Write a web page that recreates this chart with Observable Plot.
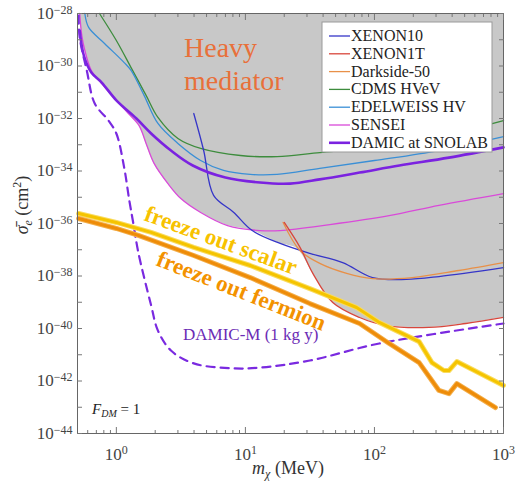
<!DOCTYPE html>
<html><head><meta charset="utf-8">
<script src="https://cdn.jsdelivr.net/npm/d3@7"></script>
<script src="https://cdn.jsdelivr.net/npm/@observablehq/plot@0.6"></script>
<style>
body{margin:0;background:#fff;}
#wrap{position:relative;width:516px;height:482px;}
#wrap svg.ov{position:absolute;left:0;top:0;pointer-events:none;}
</style></head><body><div id="wrap"></div>
<script>
// ---- data: mass (MeV) and log10 of cross section (cm^2) ----
const senseiM = [0.52,0.54,0.57,0.64,0.77,1.0,1.24,1.50,1.70,1.96,2.51,3.16,4.5,7.27,13.0,18.6,45.1,130,316,1000];
const senseiE = [-28.0,-28.84,-29.41,-30.17,-30.67,-31.31,-31.81,-32.27,-32.95,-33.71,-34.48,-35.05,-35.58,-36.08,-36.27,-36.27,-36.04,-35.70,-35.31,-34.86];
const damicM = [0.52,0.56,0.64,0.77,1.0,1.43,1.86,2.65,3.91,7.0,13.0,22.2,37.7,76.7,156,378,1000];
const damicE = [-28.65,-29.60,-30.25,-30.63,-31.31,-32.0,-32.57,-33.22,-33.79,-34.25,-34.44,-34.48,-34.32,-34.06,-33.79,-33.49,-33.10];
const cdmsM = [0.74,1.0,1.30,1.70,2.10,3.0,4.5,9.15,17.6,37.7,100,316,1000];
const cdmsE = [-28.0,-29.03,-30.06,-31.12,-31.96,-32.76,-33.14,-33.41,-33.45,-33.30,-33.10,-32.69,-32.08];
const edelM = [0.57,0.61,0.81,1.15,1.30,1.64,2.10,3.0,4.5,6.77,10.9,17.6,37.7,100,316,1000];
const edelE = [-28.0,-28.53,-29.14,-29.87,-30.17,-31.12,-32.19,-32.95,-33.60,-33.98,-34.13,-34.13,-33.90,-33.60,-33.22,-32.69];
const xe10M = [3.98,4.75,5.67,8.09,11.3,18.6,31.6,56.7,96.6,176,316,1000];
const xe10E = [-31.81,-33.22,-34.93,-35.57,-36.27,-36.76,-37.14,-37.49,-38.06,-38.13,-38.02,-37.68];
const xe1tM = [20.0,26.5,33.3,47.5,76.7,124,265,510,1000];
const xe1tE = [-35.96,-36.91,-37.90,-39.01,-39.58,-39.89,-39.96,-39.81,-39.58];
const ds50M = [19.6,26.5,37.7,60.9,96.6,196,451,1000];
const ds50E = [-35.96,-37.03,-37.52,-37.90,-38.10,-38.06,-37.79,-37.49];
const damicMM = [0.51,0.52,0.59,0.68,0.87,1.0,1.15,1.26,1.35,1.48,1.86,2.10,2.65,3.98,8.09,13.0,31.6,109,1000];
const damicME = [-28.08,-28.91,-30.17,-31.43,-32.08,-32.57,-33.87,-35.12,-35.96,-37.10,-39.12,-40.08,-40.84,-41.33,-41.52,-41.49,-41.22,-40.57,-39.81];
const scalarM = [0.51,1.0,1.86,3.98,10.9,31.6,72.7,109,222,279,345,378,435,1000];
const scalarE = [-35.62,-35.96,-36.34,-36.91,-37.60,-38.48,-39.20,-39.77,-40.50,-41.30,-41.60,-41.60,-41.26,-42.17];
const fermionM = [0.51,1.0,1.48,3.98,10.9,31.6,76.7,130,222,316,378,435,867];
const fermionE = [-35.81,-36.19,-36.45,-37.22,-38.06,-39.05,-39.81,-40.57,-41.30,-42.36,-42.48,-42.10,-43.01];
const excludedM = [0.52,0.54,0.57,0.64,0.77,1.0,1.24,1.50,1.70,1.96,2.51,3.16,4.5,7.27,11.3,18.6,25.1,33.3,47.5,76.7,124,265,510,1000];
const excludedE = [-28.0,-28.84,-29.41,-30.17,-30.67,-31.31,-31.81,-32.27,-32.95,-33.71,-34.48,-35.05,-35.58,-36.08,-36.27,-36.76,-36.95,-37.90,-39.01,-39.58,-39.89,-39.96,-39.81,-39.58];

const xMajor = [1, 10, 100, 1000];
const xMinor = [0.6,0.7,0.8,0.9,2,3,4,5,6,7,8,9,20,30,40,50,60,70,80,90,200,300,400,500,600,700,800,900];
const yLabelled = [-28,-30,-32,-34,-36,-38,-40,-42,-44];
const yDecades = [-28,-29,-30,-31,-32,-33,-34,-35,-36,-37,-38,-39,-40,-41,-42,-43,-44];

const legendNames = ["XENON10","XENON1T","Darkside-50","CDMS HVeV","EDELWEISS HV","SENSEI","DAMIC at SNOLAB"];
const legendColors = ["#3535c8","#d8463c","#e89048","#3d8c3d","#3a8fd6","#d94ad9","#7b22e0"];
const legendWidths = [1.3,1.3,1.3,1.3,1.3,1.3,2.6];

const rows = (ms, es) => ms.map((m, i) => ({m, s: 10 ** es[i]}));
const thin = (ms, es, c) => Plot.line(rows(ms, es), {x: "m", y: "s", stroke: c, strokeWidth: 1.3, curve: "catmull-rom"});
const band = (ms, es, edge, core) => [
  Plot.line(rows(ms, es), {x: "m", y: "s", stroke: edge, strokeWidth: 5, strokeLinejoin: "round"}),
  Plot.line(rows(ms, es), {x: "m", y: "s", stroke: core, strokeWidth: 3, strokeLinejoin: "round"})
];

const tick = (anchor, ticks, size) => (anchor === "bottom" || anchor === "top")
  ? Plot.axisX({anchor, ticks, tickSize: size, tickFormat: () => "", label: null, stroke: "#777"})
  : Plot.axisY({anchor, ticks, tickSize: size, tickFormat: () => "", label: null, stroke: "#777"});

const chart = Plot.plot({
  width: 516, height: 482,
  marginLeft: 77, marginRight: 13, marginTop: 13, marginBottom: 49,
  x: {type: "log", domain: [0.5, 1000]},
  y: {type: "log", domain: [1e-44, 1e-28]},
  style: {fontFamily: "Liberation Serif, DejaVu Serif, serif", fontSize: "17px", color: "#333", background: "white"},
  marks: [
    Plot.areaY(rows(excludedM, excludedE), {x: "m", y1: "s", y2: 1e-28, fill: "#c8c8c8", curve: "catmull-rom"}),
    thin(cdmsM, cdmsE, legendColors[3]),
    thin(edelM, edelE, legendColors[4]),
    thin(senseiM, senseiE, legendColors[5]),
    thin(xe10M, xe10E, legendColors[0]),
    thin(ds50M, ds50E, legendColors[2]),
    thin(xe1tM, xe1tE, legendColors[1]),
    Plot.line(rows(damicM, damicE), {x: "m", y: "s", stroke: legendColors[6], strokeWidth: 2.6, curve: "catmull-rom"}),
    Plot.line(rows(damicMM, damicME), {x: "m", y: "s", stroke: "#7a2ae0", strokeWidth: 2.2, strokeDasharray: "8,6", curve: "catmull-rom"}),
    ...band(scalarM, scalarE, "#f9dc60", "#f5c400"),
    ...band(fermionM, fermionE, "#f3ae4a", "#ee8c08"),
    Plot.frame({stroke: "#666"}),
    tick("bottom", xMajor, -6), tick("bottom", xMinor, -3),
    tick("top", xMajor, -6), tick("top", xMinor, -3),
    tick("left", yDecades.map(e => 10 ** e), -5),
    tick("right", yDecades.map(e => 10 ** e), -5),
    Plot.axisX({anchor: "bottom", ticks: xMajor, tickSize: 0, tickPadding: 14, label: null,
      tickFormat: d => "10^" + Math.round(Math.log10(d))}),
    Plot.axisY({anchor: "left", ticks: yLabelled.map(e => 10 ** e), tickSize: 0, tickPadding: 5, label: null,
      tickFormat: d => "10^" + Math.round(Math.log10(d))})
  ]
});

const NS = "http://www.w3.org/2000/svg";
chart.querySelectorAll("text").forEach(t => {
  const s = t.textContent;
  if (s.startsWith("10^")) {
    const e = s.slice(3).replace("-", "\u2212");
    t.textContent = "10";
    const ts = document.createElementNS(NS, "tspan");
    ts.setAttribute("dy", "-0.45em");
    ts.setAttribute("font-size", "12");
    ts.textContent = e;
    t.appendChild(ts);
    t.setAttribute("fill", "#444");
  }
});

const wrap = document.getElementById("wrap");
wrap.appendChild(chart);

// ---- overlay: legend, annotations, axis titles ----
const ov = document.createElementNS(NS, "svg");
ov.setAttribute("class", "ov");
ov.setAttribute("width", 516); ov.setAttribute("height", 482);
ov.setAttribute("font-family", "Liberation Serif, DejaVu Serif, serif");
let html = `<rect x="322" y="22" width="170" height="130" fill="white" stroke="#999" stroke-width="1"/>`;
legendNames.forEach((n, i) => {
  const y = 36 + 17.8 * i;
  html += `<line x1="329" x2="350" y1="${y}" y2="${y}" stroke="${legendColors[i]}" stroke-width="${legendWidths[i]}"/>`;
  html += `<text x="351" y="${y + 5}" font-size="16" fill="#222">${n}</text>`;
});
html += `<text x="184" y="57" font-size="28" fill="#e8703a">Heavy</text>`;
html += `<text x="184" y="90" font-size="28" fill="#e8703a">mediator</text>`;
html += `<text transform="translate(143,220) rotate(20)" font-size="23" font-weight="bold" fill="#f7c200">freeze out scalar</text>`;
html += `<text transform="translate(155,265) rotate(21.5)" font-size="23" font-weight="bold" fill="#f39200">freeze out fermion</text>`;
html += `<text x="183" y="340" font-size="17" fill="#6b2bb5">DAMIC-M (1 kg y)</text>`;
html += `<text x="92" y="414" font-size="15" fill="#222"><tspan font-style="italic">F</tspan><tspan font-style="italic" font-size="10" dy="3">DM</tspan><tspan dy="-3"> = 1</tspan></text>`;
html += `<text x="288" y="474" font-size="18" fill="#333" text-anchor="middle"><tspan font-style="italic">m</tspan><tspan font-style="italic" font-size="12" dy="4">χ</tspan><tspan dy="-4"> (MeV)</tspan></text>`;
html += `<text transform="translate(28,205) rotate(-90)" font-size="18" fill="#333" text-anchor="middle"><tspan font-style="italic">σ̄</tspan><tspan font-style="italic" font-size="12" dy="4">e</tspan><tspan dy="-4"> (cm</tspan><tspan font-size="12" dy="-7">2</tspan><tspan dy="7">)</tspan></text>`;
ov.innerHTML = html;
wrap.appendChild(ov);
</script></body></html>
